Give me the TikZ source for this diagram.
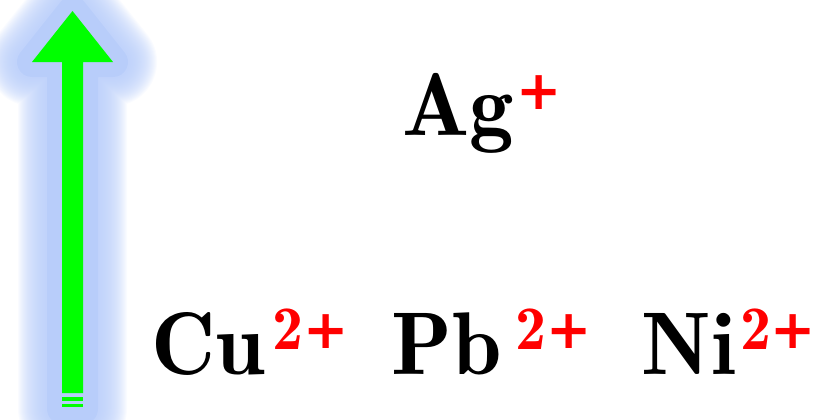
\documentclass[tikz,border=0pt]{standalone}
\usepackage{fontspec}
\usepackage{tikz}
\usetikzlibrary{positioning}
\newfontfamily\plusfont{DejaVu Sans}
\definecolor{ArrowGreen}{HTML}{00FF00}
\definecolor{GlowBlue}{RGB}{184,205,250}
\definecolor{IonRed}{HTML}{FF0000}
\newcommand{\chg}[1]{\raisebox{12.5pt}{\color{IonRed}\fontsize{31}{36}\selectfont #1}}
\newcommand{\pls}{\raisebox{13pt}{\color{IonRed}\fontsize{27}{32}\selectfont\plusfont\bfseries +}}

\begin{document}
\begin{tikzpicture}[
        x=0.5pt, y=-0.5pt,
        ion/.style={anchor=base west, inner sep=0pt, font=\fontsize{44.5}{52}\fontseries{b}\selectfont},
        glow/.style={draw=GlowBlue, line join=round, opacity=0.07},
    ]
        \useasboundingbox (0,0) rectangle (816,419);
        \clip (0,0) rectangle (816,419);
        % glow round the arrow
        \foreach \w in {44,43,...,16} {
            \draw[glow, line width=\w pt] (62,409) -- (62,62) -- (32,62) -- (72.5,11) -- (113,62) -- (83,62) -- (83,409) -- cycle;
        }
        \filldraw[GlowBlue, line width=15pt, line join=round] (62,409) -- (62,62) -- (32,62) -- (72.5,11) -- (113,62) -- (83,62) -- (83,409) -- cycle;
        % the arrow
        \fill[ArrowGreen] (62,393) -- (62,62) -- (32,62) -- (72.5,11) -- (113,62) -- (83,62) -- (83,393) -- cycle;
        \fill[ArrowGreen] (62,397) rectangle (83,401);
        \fill[ArrowGreen] (62,404) rectangle (83,407);

        \node[ion] (ag) at (402,135) {Ag\hspace{1pt}\pls};
        \node[ion] (cu) at (151,374) {Cu\hspace{3.5pt}\chg{2}\hspace{0pt}\pls};
        \node[ion] (pb) at (391,374) {Pb\hspace{7pt}\chg{2}\hspace{0pt}\pls};
        \node[ion] (ni) at (641,374) {Ni\hspace{2.5pt}\chg{2}\hspace{-0.5pt}\pls};
    \end{tikzpicture}
\end{document}
